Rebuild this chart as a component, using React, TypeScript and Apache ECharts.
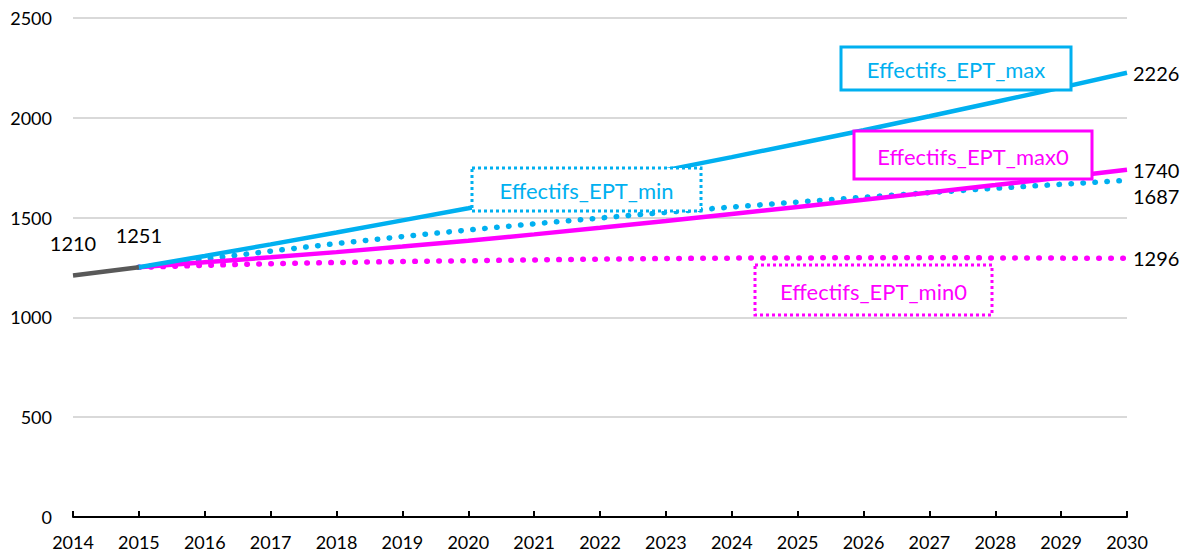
import React, { useEffect, useRef } from "react";
import * as echarts from "echarts";

const years = ["2014","2015","2016","2017","2018","2019","2020","2021","2022","2023","2024","2025","2026","2027","2028","2029","2030"];
const historic = [1210, 1251];
const eptMax = [1251, 1308, 1366, 1425, 1486, 1547, 1610, 1673, 1738, 1803, 1870, 1938, 2008, 2079, 2151, 2226];
const eptMin = [1251, 1292, 1332, 1370, 1405, 1438, 1469, 1498, 1526, 1553, 1578, 1602, 1625, 1647, 1667, 1687];
const eptMax0 = [1251, 1276, 1301, 1327, 1355, 1384, 1416, 1449, 1483, 1518, 1553, 1589, 1626, 1663, 1701, 1740];
const eptMin0 = [1251, 1261, 1269, 1275, 1280, 1284, 1288, 1292, 1295, 1297, 1298, 1299, 1299, 1298, 1297, 1296];

const BLUE = "#00B0F0";
const MAGENTA = "#FF00FF";
const GREY = "#595959";
const FONT = "Lato";

const pad = (arr: number[], before: number, total: number) => {
  const out: (number | string)[] = [];
  for (let i = 0; i < before; i++) out.push("-");
  arr.forEach((v) => out.push(v));
  while (out.length < total) out.push("-");
  return out;
};

function box(x: number, y: number, w: number, h: number, color: string, text: string, dotted: boolean) {
  return {
    type: "group",
    x,
    y,
    z: 100,
    children: [
      {
        type: "rect",
        z: 100,
        shape: { x: 0, y: 0, width: w, height: h },
        style: {
          fill: "#ffffff",
          stroke: color,
          lineWidth: 3,
          lineDash: dotted ? [3, 3] : null,
        },
      },
      {
        type: "text",
        z: 101,
        x: w / 2,
        y: h / 2 + 1,
        style: {
          text,
          fill: color,
          fontSize: 22,
          fontFamily: FONT,
          align: "center",
          verticalAlign: "middle",
        },
      },
    ],
  };
}

export default function App() {
  const ref = useRef<HTMLDivElement>(null);
  useEffect(() => {
    if (!ref.current) return;
    const chart = echarts.init(ref.current, undefined, { renderer: "svg" });
    const n = years.length;
    const endLabel = (offset: number[]) => ({
      show: true,
      formatter: "{c}",
      color: "#000",
      fontFamily: FONT,
      fontSize: 20,
      distance: 6,
      offset,
    });
    const dotStyle = (color: string) => ({
      color,
      width: 5.5,
      type: [0.5, 11.5],
      cap: "round",
    });
    chart.setOption({
      animation: false,
      grid: { left: 73, right: 64, top: 18, bottom: 41, containLabel: false },
      xAxis: {
        type: "category",
        data: years,
        boundaryGap: false,
        axisLine: { show: true, lineStyle: { color: "#000", width: 2 } },
        axisTick: { show: true, inside: true, length: 6, lineStyle: { color: "#000", width: 2 } },
        axisLabel: { color: "#000", fontFamily: FONT, fontSize: 18, margin: 16 },
        splitLine: { show: false },
      },
      yAxis: {
        type: "value",
        min: 0,
        max: 2500,
        interval: 500,
        axisLine: { show: false },
        axisTick: { show: false },
        axisLabel: { color: "#000", fontFamily: FONT, fontSize: 18, margin: 21, formatter: (v: number) => String(v) },
        splitLine: { show: true, lineStyle: { color: "#D9D9D9", width: 2 } },
      },
      series: [
        {
          name: "Effectifs_EPT_min0",
          type: "line",
          data: pad(eptMin0, 1, n),
          symbol: "none",
          lineStyle: dotStyle(MAGENTA),
          endLabel: endLabel([0, 0]),
          z: 2,
        },
        {
          name: "Effectifs_EPT_min",
          type: "line",
          data: pad(eptMin, 1, n),
          symbol: "none",
          lineStyle: dotStyle(BLUE),
          endLabel: endLabel([0, 16]),
          z: 3,
        },
        {
          name: "Effectifs_EPT_max0",
          type: "line",
          data: pad(eptMax0, 1, n),
          symbol: "none",
          lineStyle: { color: MAGENTA, width: 4.5 },
          endLabel: endLabel([0, 0]),
          z: 4,
        },
        {
          name: "Effectifs_EPT_max",
          type: "line",
          data: pad(eptMax, 1, n),
          symbol: "none",
          lineStyle: { color: BLUE, width: 4.5 },
          endLabel: endLabel([0, 0]),
          z: 5,
        },
        {
          name: "Historique",
          type: "line",
          data: pad(historic, 0, n),
          symbol: "circle",
          symbolSize: 1,
          showSymbol: true,
          itemStyle: { color: "rgba(0,0,0,0)" },
          lineStyle: { color: GREY, width: 4.5 },
          label: {
            show: true,
            position: "top",
            distance: 22,
            color: "#000",
            fontFamily: FONT,
            fontSize: 20,
          },
          z: 6,
        },
      ],
      graphic: [
        box(841, 47, 230, 43, BLUE, "Effectifs_EPT_max", false),
        box(854, 131, 238, 48, MAGENTA, "Effectifs_EPT_max0", false),
        box(472, 168, 229, 43, BLUE, "Effectifs_EPT_min", true),
        box(755, 265, 237, 50, MAGENTA, "Effectifs_EPT_min0", true),
      ],
    });
    return () => chart.dispose();
  }, []);
  return <div ref={ref} style={{ width: 1191, height: 558, position: "absolute", left: 0, top: 0 }} />;
}
